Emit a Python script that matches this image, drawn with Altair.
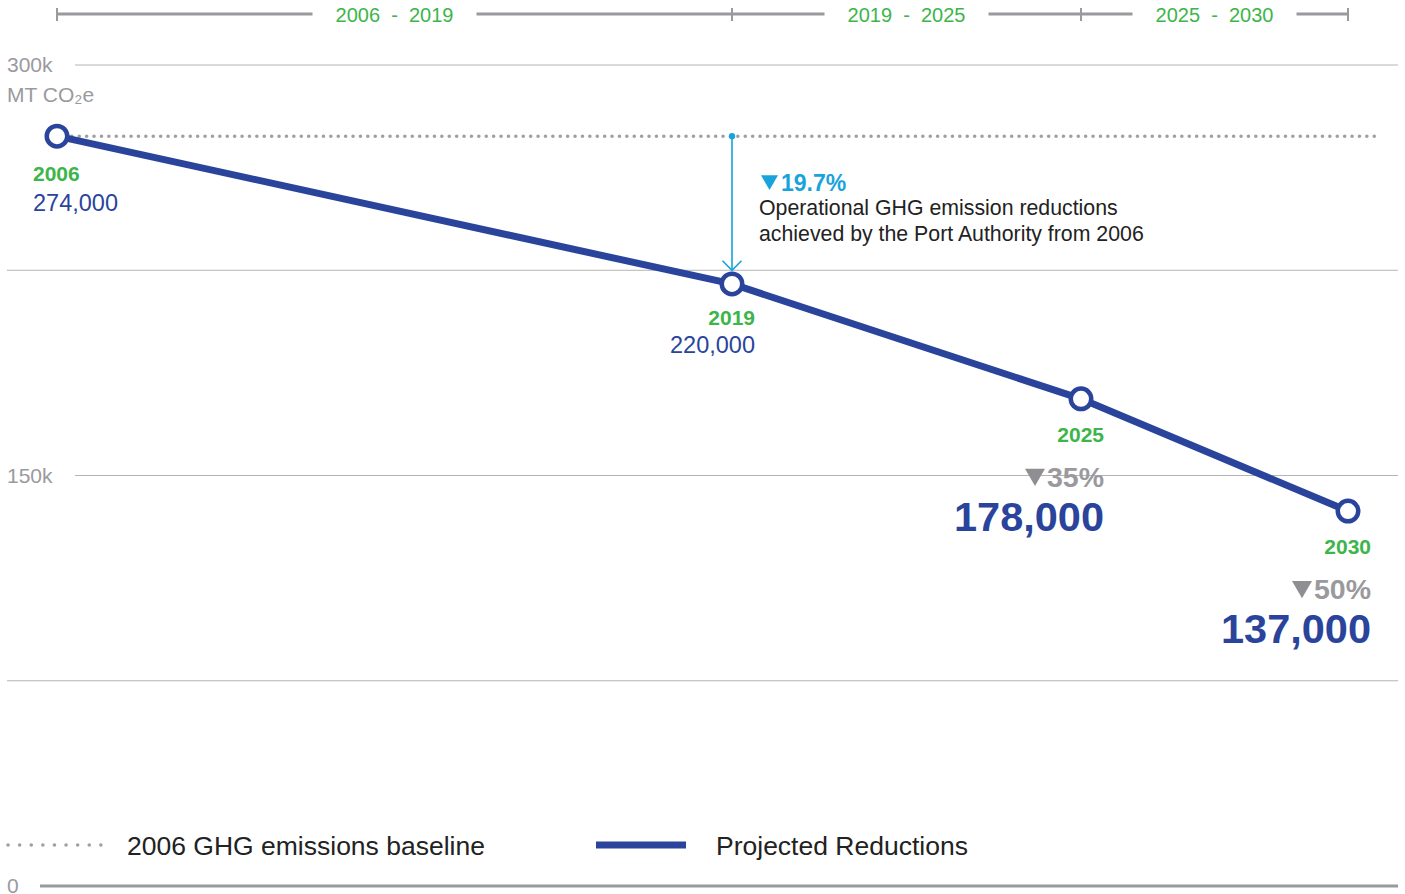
import altair as alt
import pandas as pd

# ---- data ----
years = [2006, 2019, 2025, 2030]
emissions = [274000, 220000, 178000, 137000]
year_labels = ["2006", "2019", "2025", "2030"]
value_labels = ["274,000", "220,000", "178,000", "137,000"]
pct_labels = ["", "", "35%", "50%"]

baseline_value = 274000
baseline_end = 2030.5

grid_values = [300000, 225000, 150000, 75000, 0]
tick_values = [300000, 150000, 0]
tick_labels = ["300k", "150k", "0"]

period_start = [2006, 2019, 2025]
period_end = [2019, 2025, 2030]
NB = "\u00a0"
period_labels = [f"2006{NB} -{NB} 2019", f"2019{NB} -{NB} 2025", f"2025{NB} -{NB} 2030"]

arrow_year = 2019
arrow_from = 274000
arrow_to = 225000
arrow_pct = "19.7%"
arrow_text = ["Operational GHG emission reductions", "achieved by the Port Authority from 2006"]

legend_labels = ["2006 GHG emissions baseline", "Projected Reductions"]

# ---- styles ----
FONT = "Liberation Sans"
BLUE = "#2a449c"
GREEN = "#3db54a"
GREY = "#9a9a9e"
GRID = "#b4b4b4"
CYAN = "#18a3dc"
DARK = "#222222"

W, H = 1405, 894

xs = alt.Scale(domain=[2006, 2019, 2025, 2030], range=[57, 732, 1081, 1348])
ys = alt.Scale(domain=[0, 300000], range=[886, 65])

df = pd.DataFrame({"year": years, "value": emissions, "ylab": year_labels,
                   "vlab": value_labels, "plab": pct_labels})
X = alt.X("year:Q", scale=xs, axis=None)
Y = alt.Y("value:Q", scale=ys, axis=None)

grid_df = pd.DataFrame({"value": grid_values})
tick_df = pd.DataFrame({"value": tick_values, "label": tick_labels})

grid_plain = alt.Chart(grid_df).transform_filter(
    "datum.value == 225000 || datum.value == 75000"
).mark_rule(color=GRID, strokeWidth=1).encode(
    y=Y, x=alt.value(7), x2=alt.value(1398))
grid_lab = alt.Chart(grid_df).transform_filter(
    "datum.value == 300000 || datum.value == 150000"
).mark_rule(color=GRID, strokeWidth=1).encode(
    y=Y, x=alt.value(75), x2=alt.value(1398))
grid_zero = alt.Chart(grid_df).transform_filter("datum.value == 0").mark_rule(
    color="#9a9a9a", strokeWidth=3).encode(y=Y, x=alt.value(40), x2=alt.value(1398))

tick_text = alt.Chart(tick_df).mark_text(
    align="left", baseline="alphabetic", font=FONT, fontSize=21, color=GREY, dy=7
).encode(y=Y, x=alt.value(7), text="label:N")
unit_text = alt.Chart(tick_df).transform_filter("datum.value == 300000").mark_text(
    align="left", baseline="alphabetic", font=FONT, fontSize=21, color=GREY, dy=37
).encode(y=Y, x=alt.value(7), text=alt.value("MT CO₂e"))

# header periods
per_df = pd.DataFrame({"start": period_start, "end": period_end, "label": period_labels})
per_df["mid"] = (per_df["start"] + per_df["end"]) / 2
hdr_left = alt.Chart(per_df).mark_rule(color=GREY, strokeWidth=3, x2Offset=-82).encode(
    x=alt.X("start:Q", scale=xs, axis=None), x2="mid:Q", y=alt.value(14))
hdr_right = alt.Chart(per_df).mark_rule(color=GREY, strokeWidth=3, xOffset=82).encode(
    x=alt.X("mid:Q", scale=xs, axis=None), x2="end:Q", y=alt.value(14))
hdr_text = alt.Chart(per_df).mark_text(
    align="center", baseline="alphabetic", font=FONT, fontSize=20, color=GREEN
).encode(x=alt.X("mid:Q", scale=xs, axis=None), y=alt.value(22), text="label:N")
hdr_ticks = alt.Chart(df).mark_rule(color=GREY, strokeWidth=2).encode(
    x=X, y=alt.value(8), y2=alt.value(21))

# baseline dotted
base_df = pd.DataFrame({"x1": [years[0]], "x2": [baseline_end], "value": [baseline_value]})
base_line = alt.Chart(base_df).mark_rule(
    color="#a0a0a0", strokeWidth=3.5, strokeDash=[0.1, 7.3], strokeCap="round"
).encode(x=alt.X("x1:Q", scale=xs, axis=None), x2="x2:Q", y=Y)

# arrow
arr_df = pd.DataFrame({"year": [arrow_year], "value": [arrow_from], "value2": [arrow_to]})
arrow_rule = alt.Chart(arr_df).mark_rule(color=CYAN, strokeWidth=1.6).encode(
    x=X, y=Y, y2="value2:Q")
arrow_dot = alt.Chart(arr_df).mark_point(filled=True, color=CYAN, size=40, opacity=1).encode(
    x=X, y=Y)
arrow_head = alt.Chart(arr_df).mark_point(
    shape="M-1,-1L0,0L1,-1", filled=False, stroke=CYAN, strokeWidth=1.6, size=361, opacity=1
).encode(x=X, y=alt.Y("value2:Q", scale=ys, axis=None))
arrow_tri = alt.Chart(arr_df).mark_point(
    shape="triangle-down", filled=True, color=CYAN, size=289, opacity=1,
    xOffset=37.5, yOffset=46.5
).encode(x=X, y=Y)
arrow_pct_t = alt.Chart(arr_df).mark_text(
    align="left", baseline="alphabetic", font=FONT, fontSize=23, fontWeight="bold",
    color=CYAN, dx=49, dy=55
).encode(x=X, y=Y, text=alt.value(arrow_pct))
arrow_txt = alt.Chart(arr_df).mark_text(
    align="left", baseline="alphabetic", font=FONT, fontSize=21.3, color=DARK,
    dx=27, dy=79, lineHeight=26
).encode(x=X, y=Y, text=alt.value(arrow_text))

# main line and points
line = alt.Chart(df).mark_line(color=BLUE, strokeWidth=7).encode(x=X, y=Y)
pts = alt.Chart(df).mark_point(
    shape="circle", filled=True, fill="white", stroke=BLUE, strokeWidth=4.5, size=420, opacity=1
).encode(x=X, y=Y)

first = alt.Chart(df).transform_filter("datum.year == 2006")
mid = alt.Chart(df).transform_filter("datum.year == 2019")
late = alt.Chart(df).transform_filter("datum.year >= 2025")

yl_first = first.mark_text(align="left", baseline="alphabetic", font=FONT, fontSize=21,
                           fontWeight="bold", color=GREEN, dx=-24, dy=45).encode(x=X, y=Y, text="ylab:N")
vl_first = first.mark_text(align="left", baseline="alphabetic", font=FONT, fontSize=23.5,
                           color=BLUE, dx=-24, dy=75).encode(x=X, y=Y, text="vlab:N")
yl_mid = mid.mark_text(align="right", baseline="alphabetic", font=FONT, fontSize=21,
                       fontWeight="bold", color=GREEN, dx=23, dy=41).encode(x=X, y=Y, text="ylab:N")
vl_mid = mid.mark_text(align="right", baseline="alphabetic", font=FONT, fontSize=23.5,
                       color=BLUE, dx=23, dy=69).encode(x=X, y=Y, text="vlab:N")
yl_late = late.mark_text(align="right", baseline="alphabetic", font=FONT, fontSize=21,
                         fontWeight="bold", color=GREEN, dx=23, dy=43).encode(x=X, y=Y, text="ylab:N")
tri_late = late.mark_point(shape="triangle-down", filled=True, color="#8f8f93", size=400,
                           opacity=1, xOffset=-46, yOffset=78.5).encode(x=X, y=Y)
pl_late = late.mark_text(align="right", baseline="alphabetic", font=FONT, fontSize=28.5,
                         fontWeight="bold", color=GREY, dx=23, dy=88).encode(x=X, y=Y, text="plab:N")
vl_late = late.mark_text(align="right", baseline="alphabetic", font=FONT, fontSize=41.5,
                         fontWeight="bold", color=BLUE, dx=23, dy=132).encode(x=X, y=Y, text="vlab:N")

# legend
leg_df = pd.DataFrame({"label": legend_labels})
leg_dots = alt.Chart(leg_df).transform_filter(alt.datum.label == legend_labels[0]).mark_rule(
    color="#a0a0a0", strokeWidth=3.5, strokeDash=[0.1, 11.5], strokeCap="round"
).encode(x=alt.value(8), x2=alt.value(101), y=alt.value(845))
leg_line = alt.Chart(leg_df).transform_filter(alt.datum.label == legend_labels[1]).mark_rule(
    color=BLUE, strokeWidth=7).encode(x=alt.value(596), x2=alt.value(686), y=alt.value(845))
leg_t1 = alt.Chart(leg_df).transform_filter(alt.datum.label == legend_labels[0]).mark_text(
    align="left", baseline="alphabetic", font=FONT, fontSize=26.5, color=DARK
).encode(x=alt.value(127), y=alt.value(855), text="label:N")
leg_t2 = alt.Chart(leg_df).transform_filter(alt.datum.label == legend_labels[1]).mark_text(
    align="left", baseline="alphabetic", font=FONT, fontSize=26.5, color=DARK
).encode(x=alt.value(716), y=alt.value(855), text="label:N")

chart = alt.layer(
    grid_plain, grid_lab, grid_zero, tick_text, unit_text,
    hdr_left, hdr_right, hdr_text, hdr_ticks,
    base_line, arrow_rule, arrow_dot, arrow_head, arrow_tri, arrow_pct_t, arrow_txt,
    line, pts,
    yl_first, vl_first, yl_mid, vl_mid, yl_late, tri_late, pl_late, vl_late,
    leg_dots, leg_line, leg_t1, leg_t2,
).properties(
    width=W, height=H, autosize=alt.AutoSizeParams(type="none"), padding=0,
    background="white"
).configure_view(stroke=None)

chart.save("out.html", embed_options={"renderer": "svg", "actions": False})
